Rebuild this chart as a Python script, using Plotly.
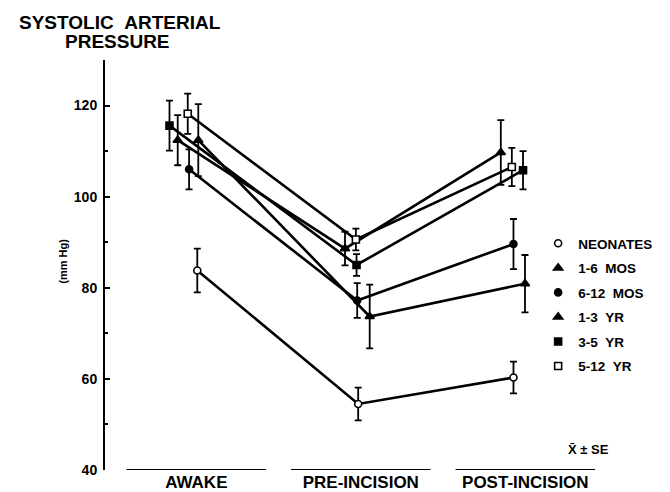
import plotly.graph_objects as go

# ---- data ----
categories = ["AWAKE", "PRE-INCISION", "POST-INCISION"]
groups = ["NEONATES", "1-6\u00a0\u00a0MOS", "6-12\u00a0\u00a0MOS", "1-3\u00a0\u00a0YR", "3-5\u00a0\u00a0YR", "5-12\u00a0\u00a0YR"]

neonates_mean = [83.8, 54.5, 60.3]
neonates_se = [4.8, 3.6, 3.5]
mos1_6_mean = [112.4, 73.7, 80.9]
mos1_6_se = [7.9, 7.0, 6.3]
mos6_12_mean = [106.0, 77.2, 89.6]
mos6_12_se = [4.4, 3.8, 5.5]
yr1_3_mean = [112.4, 88.6, 109.7]
yr1_3_se = [5.5, 3.7, 7.1]
yr3_5_mean = [115.6, 85.0, 105.8]
yr3_5_se = [5.5, 2.4, 4.2]
yr5_12_mean = [118.2, 90.6, 106.5]
yr5_12_se = [4.4, 2.4, 4.2]

y_ticks = [40, 60, 80, 100, 120]

# ---- styling / layout helpers ----
FONT = "Liberation Sans, Arial, Helvetica, sans-serif"
# (name, mean, se, symbol, fill, size, dodge offsets)
series = [
    (groups[0], neonates_mean, neonates_se, "circle", "white", 7, [0.006, -0.016, -0.072]),
    (groups[1], mos1_6_mean, mos1_6_se, "triangle-up", "black", 8, [0.012, 0.054, -0.002]),
    (groups[2], mos6_12_mean, mos6_12_se, "circle", "black", 7, [-0.044, -0.022, -0.072]),
    (groups[3], yr1_3_mean, yr1_3_se, "triangle-up", "black", 8, [-0.113, -0.096, -0.149]),
    (groups[4], yr3_5_mean, yr3_5_se, "square", "black", 7, [-0.163, -0.026, -0.014]),
    (groups[5], yr5_12_mean, yr5_12_se, "square", "white", 7, [-0.052, -0.030, -0.082]),
]

fig = go.Figure()
for i, (name, mean, se, sym, fill, size, dodge) in enumerate(series):
    xs = [ci + d for ci, d in zip(range(len(categories)), dodge)]
    mk = dict(symbol=sym, size=size, color=fill, line=dict(color="black", width=1.6))
    fig.add_trace(go.Scatter(
        x=xs, y=mean, mode="lines+markers", showlegend=False,
        line=dict(color="black", width=2.6), marker=mk,
        error_y=dict(type="data", array=se, visible=True, color="black", thickness=1.8, width=3.5),
    ))
    # legend entry (marker only)
    fig.add_trace(go.Scatter(x=[None], y=[None], mode="markers", name=name,
                             legendgroup=f"g{i}", marker=mk))

# category baseline segments
for ci in range(len(categories)):
    fig.add_shape(type="line", xref="x", yref="y", x0=ci - 0.424, x1=ci + 0.424, y0=40, y1=40,
                  line=dict(color="black", width=2))

# page is offset by the 8px body margin
OFF = 8
W, H = 662, 484
L, R, T, B = 105 - OFF, 60, 60 - OFF, 22
pw, ph = W - L - R, H - T - B

def px(xp):  # page pixel -> paper x
    return (xp - OFF - L) / pw

def py(yp):  # page pixel -> paper y
    return (H - B - (yp - OFF)) / ph

fig.update_layout(
    width=W, height=H,
    margin=dict(l=L, r=R, t=T, b=B),
    paper_bgcolor="white", plot_bgcolor="white",
    font=dict(family=FONT, color="black"),
    xaxis=dict(range=[-0.555, 2.46], showgrid=False, zeroline=False, showline=False,
               automargin=False,
               tickvals=list(range(len(categories))), ticktext=categories, ticks="",
               tickfont=dict(size=17, weight="bold", family=FONT), ticklabelstandoff=0),
    yaxis=dict(range=[40, 130], showgrid=False, zeroline=False, showline=True,
               automargin=False,
               linecolor="black", linewidth=2, ticks="inside", ticklen=5, tickwidth=1.5,
               tickcolor="black", tickvals=y_ticks,
               tickfont=dict(size=14, weight="bold", family=FONT), ticklabelstandoff=3,
               minor=dict(ticks="inside", ticklen=3, tickwidth=1.5, tickcolor="black",
                          tickvals=[50, 70, 90, 110, 130])),
    legend=dict(x=px(546), y=py(228), xanchor="left", yanchor="top",
                font=dict(size=13.5, weight="bold", family=FONT),
                itemwidth=30, tracegroupgap=4, bgcolor="rgba(0,0,0,0)"),
    showlegend=True,
)

fig.add_annotation(text="SYSTOLIC\u00a0\u00a0ARTERIAL", x=px(120), y=py(23), xref="paper", yref="paper",
                   showarrow=False, xanchor="center", yanchor="middle",
                   font=dict(size=19, weight="bold", family=FONT))
fig.add_annotation(text="PRESSURE", x=px(118), y=py(42), xref="paper", yref="paper",
                   showarrow=False, xanchor="center", yanchor="middle",
                   font=dict(size=19, weight="bold", family=FONT))
fig.add_annotation(text="(mm Hg)", x=px(62), y=py(261), xref="paper", yref="paper",
                   showarrow=False, xanchor="center", yanchor="middle", textangle=-90,
                   font=dict(size=11, weight="bold", family=FONT))
fig.add_annotation(text="X\u0304 \u00b1 SE", x=px(597), y=py(449), xref="paper", yref="paper",
                   showarrow=False, xanchor="center", yanchor="middle",
                   font=dict(size=13, weight="bold", family=FONT))

fig.write_html("out.html")
